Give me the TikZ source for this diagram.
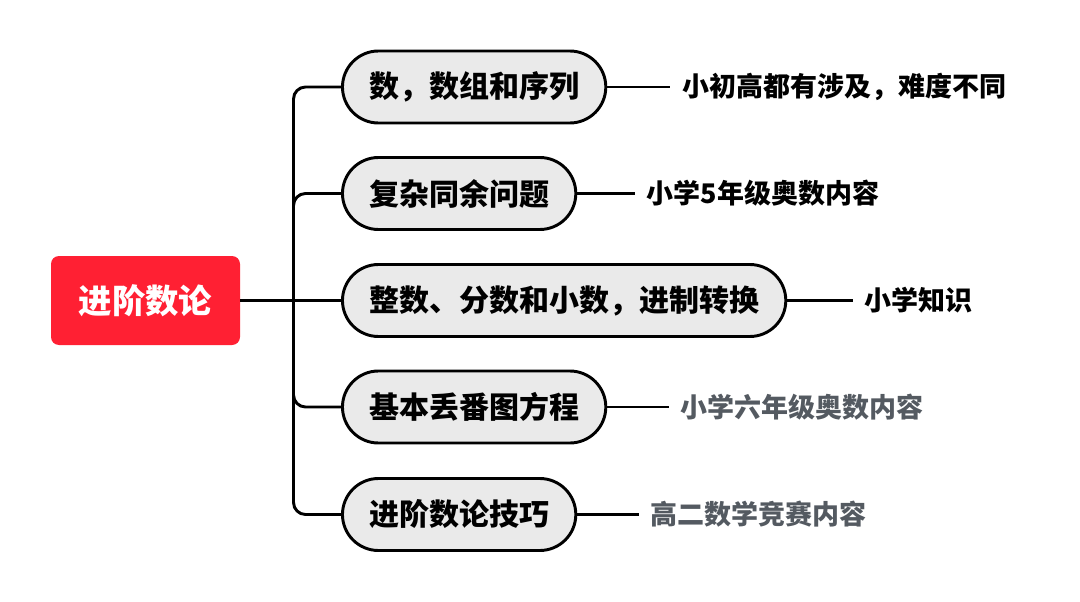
\documentclass[tikz,border=0pt]{standalone}
\usepackage{fontspec}
\setmainfont{Noto Sans CJK SC}[BoldFont={Noto Sans CJK SC Black}]
\usetikzlibrary{positioning}
\definecolor{rootred}{HTML}{FF2033}
\definecolor{boxgrey}{HTML}{EAEAEA}
\definecolor{notegrey}{HTML}{545A61}
\tikzset{
  root/.style={fill=rootred, text=white, rounded corners=6pt, minimum width=141.75pt,
    minimum height=66.75pt, font=\bfseries\fontsize{25}{29}\selectfont},
  topic/.style={draw, line width=2.2pt, fill=boxgrey, rounded corners=27pt,
    minimum height=54pt, inner xsep=20pt, anchor=west, font=\bfseries\fontsize{22.5}{26}\selectfont},
  note/.style={inner xsep=9pt, inner ysep=0pt, font=\bfseries\fontsize{20.25}{24}\selectfont},
  link/.style={line width=2.2pt},
}
\begin{document}
\begin{tikzpicture}[x=0.75pt,y=-0.75pt]
		\useasboundingbox (0,0) rectangle (1080,602);
		\node[root] (root) at (145.5,300.5) {进阶数论};
		\node[topic] (t1) at (341,87) {数，数组和序列};
		\node[topic] (t2) at (341,193.5) {复杂同余问题};
		\node[topic] (t3) at (341,300.5) {整数、分数和小数，进制转换};
		\node[topic] (t4) at (341,407) {基本丢番图方程};
		\node[topic] (t5) at (341,514.5) {进阶数论技巧};
		\node[note, right=47pt of t1] (n1) {小初高都有涉及，难度不同};
		\node[note, right=43pt of t2] (n2) {小学5年级奥数内容};
		\node[note, right=49pt of t3] (n3) {小学知识};
		\node[note, right=46pt of t4, text=notegrey] (n4) {小学六年级奥数内容};
		\node[note, right=46pt of t5, text=notegrey] (n5) {高二数学竞赛内容};
		\coordinate (hub) at (293.5,300.5);
		\draw[link] (root.east) -- (t3.west);
		\foreach \t in {t1,t2,t4,t5}
			\draw[link, rounded corners=9pt] (hub) |- (\t.west);
		\foreach \i in {1,...,5}
			\draw[link] (t\i.east) -- (n\i.west);
\end{tikzpicture}
\end{document}
